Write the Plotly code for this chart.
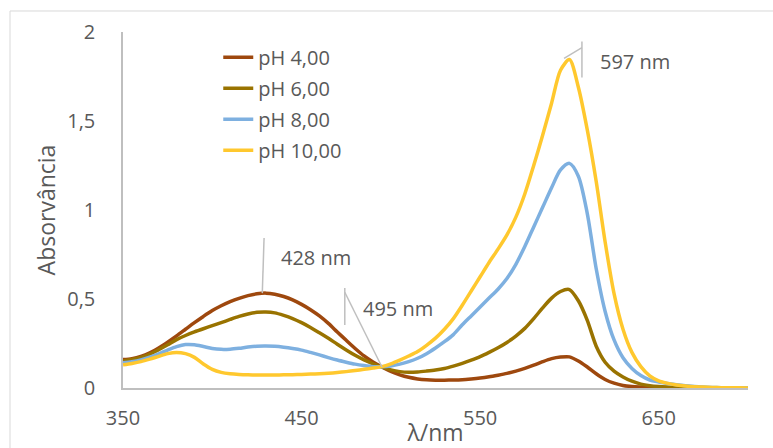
import plotly.graph_objects as go

wavelength = list(range(350, 705, 5))

ph4 = [0.16, 0.165, 0.177, 0.197, 0.225, 0.258, 0.293, 0.33, 0.367, 0.402,
       0.435, 0.462, 0.485, 0.504, 0.519, 0.529, 0.533, 0.527, 0.514, 0.495,
       0.47, 0.44, 0.405, 0.363, 0.315, 0.268, 0.222, 0.18, 0.146, 0.118,
       0.093, 0.074, 0.06, 0.051, 0.046, 0.044, 0.044, 0.045, 0.047, 0.051,
       0.056, 0.063, 0.072, 0.082, 0.095, 0.11, 0.128, 0.148, 0.165, 0.174,
       0.175, 0.152, 0.118, 0.08, 0.048, 0.027, 0.014, 0.008, 0.005, 0.003,
       0.002, 0.002, 0.001, 0.001, 0.001, 0.001, 0.0, 0.0, 0.0, 0.0, 0.0]

ph6 = [0.152, 0.16, 0.172, 0.19, 0.215, 0.243, 0.272, 0.295, 0.315, 0.333,
       0.35, 0.367, 0.385, 0.402, 0.416, 0.425, 0.427, 0.422, 0.408, 0.39,
       0.367, 0.34, 0.31, 0.279, 0.246, 0.214, 0.184, 0.158, 0.136, 0.117,
       0.102, 0.092, 0.088, 0.09, 0.095, 0.101, 0.11, 0.123, 0.138, 0.156,
       0.176, 0.2, 0.226, 0.256, 0.292, 0.335, 0.39, 0.45, 0.505, 0.542,
       0.553, 0.49, 0.38, 0.235, 0.145, 0.095, 0.062, 0.038, 0.022, 0.013,
       0.008, 0.005, 0.003, 0.002, 0.001, 0.001, 0.001, 0.0, 0.0, 0.0, 0.0]

ph8 = [0.142, 0.148, 0.158, 0.173, 0.192, 0.213, 0.232, 0.244, 0.243, 0.233,
       0.222, 0.217, 0.218, 0.223, 0.23, 0.235, 0.236, 0.234, 0.229, 0.222,
       0.213, 0.2, 0.186, 0.171, 0.157, 0.145, 0.134, 0.126, 0.12, 0.119,
       0.124, 0.134, 0.148, 0.167, 0.193, 0.225, 0.26, 0.3, 0.355, 0.405,
       0.455, 0.505, 0.555, 0.615, 0.695, 0.795, 0.905, 1.015, 1.125, 1.225,
       1.262, 1.19, 0.98, 0.67, 0.43, 0.27, 0.17, 0.11, 0.07, 0.045,
       0.034, 0.025, 0.018, 0.012, 0.008, 0.005, 0.003, 0.002, 0.002, 0.001, 0.001]

ph10 = [0.13, 0.138, 0.148, 0.162, 0.178, 0.193, 0.2, 0.193, 0.172, 0.135,
        0.105, 0.088, 0.08, 0.076, 0.074, 0.073, 0.073, 0.073, 0.074, 0.075,
        0.076, 0.078, 0.08, 0.083, 0.087, 0.092, 0.098, 0.105, 0.112, 0.12,
        0.136, 0.157, 0.18, 0.205, 0.24, 0.28, 0.33, 0.39, 0.465, 0.545,
        0.625, 0.705, 0.78, 0.86, 0.96, 1.09, 1.25, 1.42, 1.60, 1.785,
        1.845, 1.69, 1.45, 1.16, 0.82, 0.53, 0.33, 0.20, 0.12, 0.068,
        0.04, 0.026, 0.017, 0.011, 0.007, 0.005, 0.003, 0.002, 0.001, 0.001, 0.0]

series_names = ["pH 4,00", "pH 6,00", "pH 8,00", "pH 10,00"]
series_values = [ph4, ph6, ph8, ph10]
series_colors = ["#9E480E", "#997300", "#7EB0E0", "#FFC82E"]

y_ticks = [0, 0.5, 1, 1.5, 2]
x_ticks = [350, 450, 550, 650]

# peak labels: (wavelength, absorbance, text)
peaks = [(428, 0.533, "428 nm"), (495, 0.118, "495 nm"), (597, 1.852, "597 nm")]

TXT = "#595959"
FONT = "Open Sans"

fig = go.Figure()
for i, (name, vals, col) in enumerate(zip(series_names, series_values, series_colors)):
    fig.add_trace(go.Scatter(x=wavelength, y=vals, name=name, mode="lines", legendgroup=f"g{i}",
                             line=dict(color=col, width=3.5, shape="spline", smoothing=0.8)))

lead = dict(color="#BFBFBF", width=1.5)
shapes = []
annotations = []
# 428 nm
px, py, t = peaks[0]
shapes.append(dict(type="line", xref="x", yref="y", x0=px, y0=py, x1=px + 1, y1=py + 0.31, line=lead))
annotations.append(dict(x=px + 9.5, y=py + 0.2, text=t, xanchor="left", yanchor="middle"))
# 495 nm
px, py, t = peaks[1]
shapes.append(dict(type="line", xref="x", yref="y", x0=px - 20.8, y0=py + 0.236, x1=px - 20.8, y1=py + 0.444, line=lead))
shapes.append(dict(type="line", xref="x", yref="y", x0=px - 20.8, y0=py + 0.42, x1=px, y1=py, line=lead))
annotations.append(dict(x=px - 12, y=py + 0.33, text=t, xanchor="left", yanchor="middle"))
# 597 nm
px, py, t = peaks[2]
shapes.append(dict(type="line", xref="x", yref="y", x0=px + 10, y0=py - 0.108, x1=px + 10, y1=py + 0.094, line=lead))
shapes.append(dict(type="line", xref="x", yref="y", x0=px, y0=py, x1=px + 10, y1=py + 0.06, line=lead))
annotations.append(dict(x=px + 18.8, y=py - 0.02, text=t, xanchor="left", yanchor="middle"))

for a in annotations:
    a.update(xref="x", yref="y", showarrow=False, font=dict(family=FONT, size=20, color=TXT))

# outer chart border
shapes.append(dict(type="rect", xref="paper", yref="paper", x0=-0.1808, y0=-0.5, x1=1.2, y1=1.059,
                   line=dict(color="#D9D9D9", width=1), layer="below"))

fig.update_layout(
    width=773, height=448,
    margin=dict(l=123, r=25, t=32, b=60),
    paper_bgcolor="white", plot_bgcolor="white",
    separators=",.",
    font=dict(family=FONT, size=20, color=TXT),
    showlegend=True,
    legend=dict(x=0.1524, y=0.984, xanchor="left", yanchor="top", bgcolor="rgba(0,0,0,0)",
                font=dict(family=FONT, size=20, color=TXT), tracegroupgap=2),
    shapes=shapes,
    annotations=annotations,
    xaxis=dict(range=[350, 700], tickvals=x_ticks, showgrid=False, zeroline=False, automargin=False,
               showline=True, linecolor="#BFBFBF", linewidth=1.5, ticks="", ticklabelstandoff=11,
               title=dict(text="λ/nm", font=dict(family=FONT, size=23, color=TXT), standoff=0)),
    yaxis=dict(range=[0, 2], tickvals=y_ticks, showgrid=False, zeroline=False, automargin=False,
               showline=True, linecolor="#BFBFBF", linewidth=1.5, ticks="", ticklabelstandoff=22,
               title=dict(text="Absorvância", font=dict(family=FONT, size=23, color=TXT), standoff=5)),
)

fig.write_html("out.html")
